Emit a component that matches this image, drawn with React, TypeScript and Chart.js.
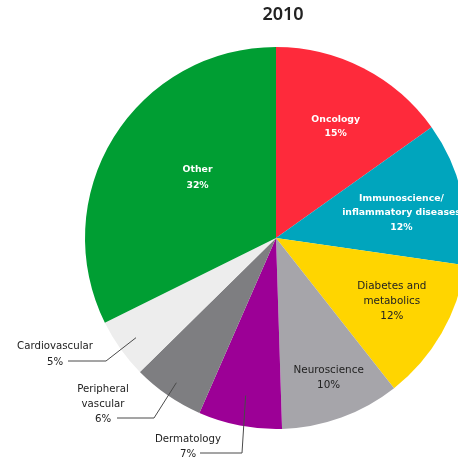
import { useEffect, useRef } from "react";
import { Chart, registerables } from "chart.js";

Chart.register(...registerables);

// ---------- data ----------
const chartTitle = "2010";
const categories = [
  "Oncology",
  "Immunoscience/inflammatory diseases",
  "Diabetes and metabolics",
  "Neuroscience",
  "Dermatology",
  "Peripheral vascular",
  "Cardiovascular",
  "Other",
];
const labelLines = [
  ["Oncology"],
  ["Immunoscience/", "inflammatory diseases"],
  ["Diabetes and", "metabolics"],
  ["Neuroscience"],
  ["Dermatology"],
  ["Peripheral", "vascular"],
  ["Cardiovascular"],
  ["Other"],
];
const shares = [15, 12, 12, 10, 7, 6, 5, 32];

// ---------- styles ----------
const sliceColors = [
  "#FE2A3B",
  "#00A5BD",
  "#FFD500",
  "#A6A5AA",
  "#9C0096",
  "#7E7E81",
  "#EDEDED",
  "#009E33",
];

const FONT = '"DejaVu Sans", sans-serif';
const DARK = "#222222";

type Inside = { kind: "in"; rf: number; da: number; color: string; bold: boolean; lh: number };
type Callout = { kind: "out"; rf: number; elbow: [number, number]; end: [number, number]; tx: number; lh: number };
const placement: (Inside | Callout)[] = [
  { kind: "in", rf: 0.66, da: 1, color: "#ffffff", bold: true, lh: 14 },
  { kind: "in", rf: 0.67, da: 2.3, color: "#ffffff", bold: true, lh: 14.5 },
  { kind: "in", rf: 0.69, da: -1.5, color: DARK, bold: false, lh: 15 },
  { kind: "in", rf: 0.78, da: -0.7, color: DARK, bold: false, lh: 15 },
  { kind: "out", rf: 0.84, elbow: [242, 453], end: [200, 453], tx: 188, lh: 15 },
  { kind: "out", rf: 0.92, elbow: [154, 418], end: [117, 418], tx: 103, lh: 15 },
  { kind: "out", rf: 0.9, elbow: [106, 361], end: [68, 361], tx: 55, lh: 16 },
  { kind: "in", rf: 0.52, da: 6, color: "#ffffff", bold: true, lh: 16 },
];

const labelPlugin = {
  id: "sliceLabels",
  afterDatasetsDraw(chart: any) {
    const ctx = chart.ctx as CanvasRenderingContext2D;
    const meta = chart.getDatasetMeta(0);
    ctx.save();
    // title
    ctx.fillStyle = DARK;
    ctx.font = `600 18px "Noto Sans", sans-serif`;
    ctx.textAlign = "center";
    ctx.textBaseline = "middle";
    ctx.fillText(chartTitle, 283, 15);

    meta.data.forEach((arc: any, i: number) => {
      const p = arc.getProps(["x", "y", "startAngle", "endAngle", "outerRadius"], true);
      const pl = placement[i];
      const pct = `${shares[i]}%`;
      const lines = [...labelLines[i], pct];
      const mid = (p.startAngle + p.endAngle) / 2;
      if (pl.kind === "in") {
        const a = mid + (pl.da * Math.PI) / 180;
        const cx = p.x + Math.cos(a) * p.outerRadius * pl.rf;
        const cy = p.y + Math.sin(a) * p.outerRadius * pl.rf;
        ctx.fillStyle = pl.color;
        ctx.font = pl.bold ? `bold 9.3px ${FONT}` : `10.4px ${FONT}`;
        ctx.textAlign = "center";
        ctx.textBaseline = "middle";
        lines.forEach((t, k) => {
          ctx.fillText(t, cx, cy + (k - (lines.length - 1) / 2) * pl.lh);
        });
      } else {
        const ax = p.x + Math.cos(mid) * p.outerRadius * pl.rf;
        const ay = p.y + Math.sin(mid) * p.outerRadius * pl.rf;
        ctx.strokeStyle = "#4a4a4a";
        ctx.lineWidth = 1;
        ctx.beginPath();
        ctx.moveTo(ax, ay);
        ctx.lineTo(pl.elbow[0], pl.elbow[1]);
        ctx.lineTo(pl.end[0], pl.end[1]);
        ctx.stroke();
        ctx.fillStyle = DARK;
        ctx.font = `10.2px ${FONT}`;
        ctx.textAlign = "center";
        ctx.textBaseline = "middle";
        const n = lines.length;
        lines.forEach((t, k) => {
          ctx.fillText(t, pl.tx, pl.end[1] + 1 - (n - 1 - k) * pl.lh);
        });
      }
    });
    ctx.restore();
  },
};

export default function App() {
  const ref = useRef<HTMLCanvasElement | null>(null);
  useEffect(() => {
    if (!ref.current) return;
    const chart = new Chart(ref.current, {
      type: "pie",
      data: {
        labels: categories,
        datasets: [
          {
            data: shares,
            backgroundColor: sliceColors,
            borderWidth: 0,
          },
        ],
      },
      options: {
        responsive: false,
        animation: false,
        devicePixelRatio: 1,
        layout: { padding: { top: 47, bottom: 33, left: 0, right: 0 } },
        plugins: {
          legend: { display: false },
          tooltip: { enabled: false },
          title: { display: false },
        },
      },
      plugins: [labelPlugin],
    });
    return () => chart.destroy();
  }, []);
  return (
    <div
      style={{
        position: "absolute",
        left: 0,
        top: 0,
        width: 458,
        height: 462,
        overflow: "hidden",
        background: "#ffffff",
      }}
    >
      <canvas ref={ref} width={552} height={462} style={{ display: "block" }} />
    </div>
  );
}
